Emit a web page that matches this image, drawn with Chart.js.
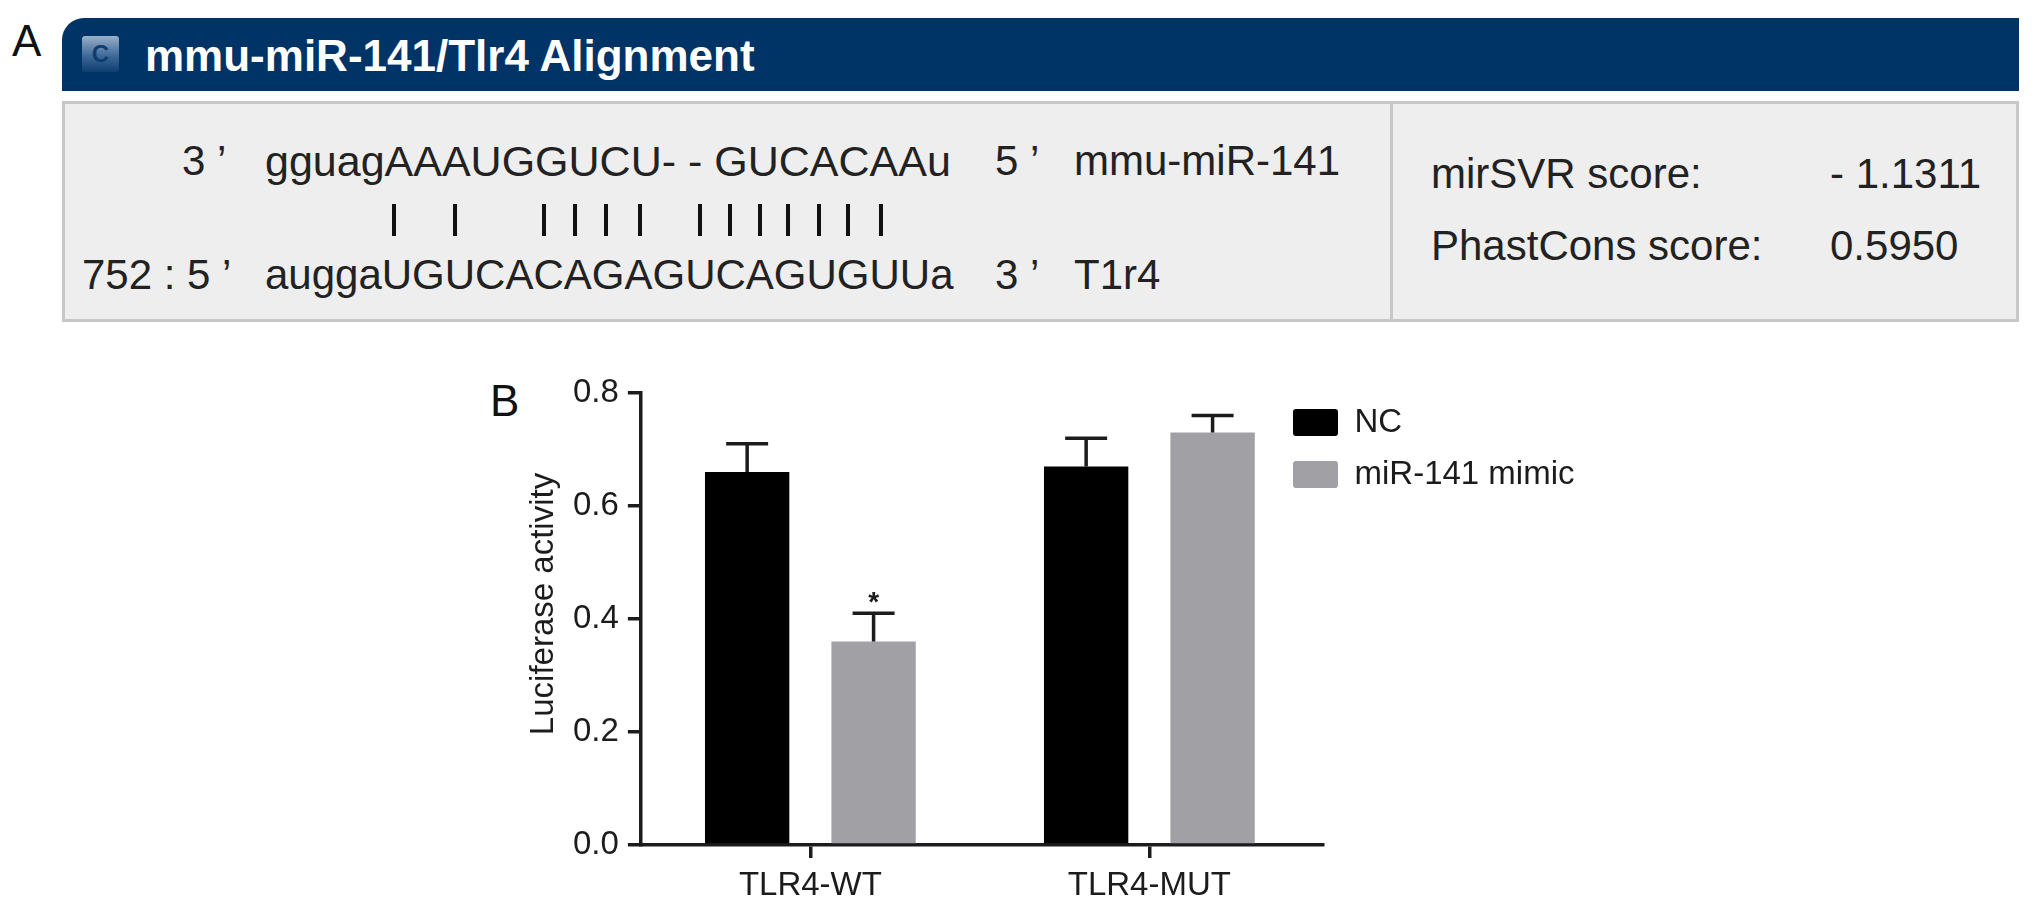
<!DOCTYPE html>
<html>
<head>
<meta charset="utf-8">
<title>mmu-miR-141/Tlr4</title>
<script src="https://cdn.jsdelivr.net/npm/chart.js@4/dist/chart.umd.min.js"></script>
<style>
    html, body { margin: 0; padding: 0; background: #fff; width: 2032px; height: 910px; overflow: hidden; }
    body { position: relative; font-family: "Liberation Sans", Arial, sans-serif; color: #222; }
    #snapshot { position: absolute; left: 0; top: 0; }
    .t { position: absolute; white-space: pre; line-height: 1; font-size: 42px; }
    .panel { position: absolute; font-size: 44px; color: #111; }
    #head { position: absolute; left: 62px; top: 18px; width: 1957px; height: 73px; background: #003366; border-top-left-radius: 22px; }
    #icon { position: absolute; left: 82px; top: 36px; width: 37px; height: 36px; border-radius: 3px;
        background: linear-gradient(#9ab0c8, #3d6a9a 55%, #0f3d70); color: #0f3d70; font: bold 24px "Liberation Sans"; text-align: center; line-height: 36px; }
    #title { position: absolute; left: 145px; top: 31px; color: #fff; font: bold 44px "Liberation Sans"; white-space: pre; }
    #box { position: absolute; left: 62px; top: 101px; width: 1951px; height: 215px; background: #eeeeee; border: 3px solid #c8c8c8; }
    #divider { position: absolute; left: 1390px; top: 101px; width: 3px; height: 220px; background: #c8c8c8; }
    .pair { position: absolute; top: 204px; width: 4px; height: 32px; background: #111; }
</style>
</head>
<body>
<div id="head"></div>
<div id="icon">C</div>
<div id="title">mmu-miR-141/Tlr4 Alignment</div>
<div id="box"></div>
<div id="divider"></div>
<div class="panel" style="left:12px;top:16px">A</div>
<div class="panel" style="left:490px;top:376px">B</div>
<div class="t" style="left:182px;top:140px">3 ’</div>
<div class="t" style="left:265px;top:140px;font-size:43px">gguagAAAUGGUCU- - GUCACAAu</div>
<div class="t" style="left:995px;top:140px">5 ’</div>
<div class="t" style="left:1074px;top:140px">mmu-miR-141</div>
<div class="t" style="left:82px;top:254px">752 : 5 ’</div>
<div class="t" style="left:265px;top:254px">auggaUGUCACAGAGUCAGUGUUa</div>
<div class="t" style="left:995px;top:254px">3 ’</div>
<div class="t" style="left:1074px;top:254px">T1r4</div>
<div class="t" style="left:1431px;top:153px">mirSVR score:</div>
<div class="t" style="left:1830px;top:153px">- 1.1311</div>
<div class="t" style="left:1431px;top:225px">PhastCons score:</div>
<div class="t" style="left:1830px;top:225px">0.5950</div>
<canvas id="snapshot" width="2032" height="910"></canvas>
<script>
// Chart data
const groupLabels = ['TLR4-WT', 'TLR4-MUT'];
const groupX = [1, 2];
const ncValues = [0.66, 0.67];
const mimicValues = [0.36, 0.73];
const ncErrors = [0.05, 0.05];
const mimicErrors = [0.05, 0.03];
const yTicks = [0, 0.2, 0.4, 0.6, 0.8];
const yTitle = 'Luciferase activity';

// Base pair marks between the two sequences (panel A)
const pairMarks = [394, 455, 544, 575, 606, 640, 700, 730, 760, 788, 819, 848, 881];
pairMarks.forEach(x => {
    const mark = document.createElement('div');
    mark.className = 'pair';
    mark.style.left = (x - 2) + 'px';
    document.body.appendChild(mark);
});

const ink = '#1c1c1c';

// Error bars and the star, all through the chart scales
const errorBars = {
    id: 'errorBars',
    afterDatasetsDraw(chart) {
        const ctx = chart.ctx;
        const yScale = chart.scales.y;
        const errors = [ncErrors, mimicErrors];
        ctx.save();
        ctx.strokeStyle = ink;
        ctx.lineWidth = 3.5;
        chart.data.datasets.forEach((ds, i) => {
            chart.getDatasetMeta(i).data.forEach((bar, j) => {
                const top = yScale.getPixelForValue(ds.data[j].y + errors[i][j]);
                ctx.beginPath();
                ctx.moveTo(bar.x, bar.y);
                ctx.lineTo(bar.x, top);
                ctx.moveTo(bar.x - 21, top);
                ctx.lineTo(bar.x + 21, top);
                ctx.stroke();
            });
        });
        // significance star above TLR4-WT mimic
        const starBar = chart.getDatasetMeta(1).data[0];
        ctx.fillStyle = ink;
        ctx.font = 'bold 28px "Liberation Sans"';
        ctx.textAlign = 'center';
        ctx.textBaseline = 'middle';
        ctx.fillText('*', starBar.x, yScale.getPixelForValue(mimicValues[0] + mimicErrors[0]) - 10);

        // y title sits a bit above the axis centre, which scale.title can't do
        ctx.translate(544, yScale.top + yScale.height / 2 - 15);
        ctx.rotate(-Math.PI / 2);
        ctx.font = '33px "Liberation Sans"';
        ctx.fillText(yTitle, 0, 0);
        ctx.restore();
    }
};

// The legend sits next to the axis, not centred in the free space
const legendPlace = {
    id: 'legendPlace',
    afterLayout(chart) {
        chart.legend.left = 1274;
        chart.legend.top = 387;
    }
};

const chartdata = {
    datasets: [
        {
            label: 'NC',
            data: groupX.map((x, i) => ({ x: x, y: ncValues[i] })),
            backgroundColor: '#000000',
            borderWidth: 0
        },
        {
            label: 'miR-141 mimic',
            data: groupX.map((x, i) => ({ x: x, y: mimicValues[i] })),
            backgroundColor: '#a0a0a5',
            borderWidth: 0
        }
    ]
};

const chartconfig = {
    type: 'bar',
    data: chartdata,
    options: {
        responsive: false,
        animation: false,
        events: [],
        layout: { padding: { left: 564, top: 393, right: 457, bottom: 0 } },
        datasets: { bar: { categoryPercentage: 0.746, barPercentage: 0.667 } },
        plugins: {
            tooltip: { enabled: false },
            legend: {
                position: 'right',
                align: 'start',
                labels: {
                    boxWidth: 45,
                    boxHeight: 27,
                    padding: 19,
                    useBorderRadius: true,
                    borderRadius: 3,
                    color: ink,
                    font: { family: '"Liberation Sans"', size: 33 }
                }
            }
        },
        scales: {
            x: {
                type: 'linear',
                offset: false,
                min: 0.5,
                max: 2.51,
                afterBuildTicks(axis) {
                    axis.ticks = groupX.map(v => ({ value: v }));
                },
                afterFit(axis) {
                    axis.height = 65;
                },
                grid: { offset: false, drawOnChartArea: false, color: ink, lineWidth: 3.5, tickLength: 13 },
                border: { color: ink, width: 3.5 },
                ticks: {
                    color: ink,
                    maxRotation: 0,
                    autoSkip: false,
                    padding: 8,
                    font: { family: '"Liberation Sans"', size: 33 },
                    callback: (value) => groupLabels[groupX.indexOf(value)]
                }
            },
            y: {
                min: 0,
                max: 0.8,
                afterBuildTicks(axis) {
                    axis.ticks = yTicks.map(v => ({ value: v }));
                },
                grid: { drawOnChartArea: false, color: ink, lineWidth: 3.5, tickLength: 13 },
                border: { color: ink, width: 3.5 },
                ticks: {
                    color: ink,
                    padding: 9,
                    font: { family: '"Liberation Sans"', size: 33 },
                    callback: (value) => value.toFixed(1)
                }
            }
        }
    },
    plugins: [errorBars, legendPlace]
};

const chart = new Chart('snapshot', chartconfig);
</script>
</body>
</html>
